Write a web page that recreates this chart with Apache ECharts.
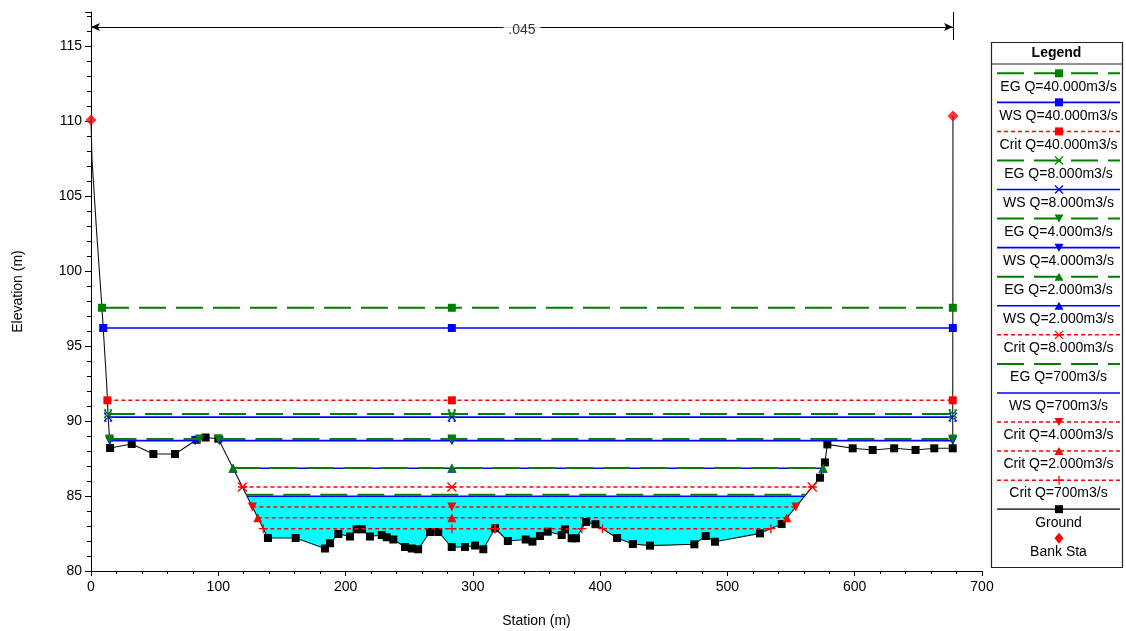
<!DOCTYPE html>
<html><head><meta charset="utf-8">
<script src="https://cdn.jsdelivr.net/npm/echarts@6/dist/echarts.min.js"></script>
<style>html,body{margin:0;padding:0;background:#fff}#c{width:1126px;height:631px}</style>
</head><body><div id="c"></div>
<script>
// ---------------- DATA ----------------
const groundStation = [0, 0.8, 4.5, 8.5, 12.3, 13.5, 15,
  32, 49, 66, 83, 90, 100,
  139, 160.8, 183.8, 187.8, 194.3, 203.5, 208.7, 212.7, 219.2, 228.4, 232.3, 237.5, 246.7, 252, 257,
  266.3, 272.8, 283.4, 293.8, 301.7, 308.2, 317.4, 327.5, 341.5, 346.8, 352.7, 358.8, 369.8, 372.4,
  377.6, 381, 389, 396.3, 413.3, 425.7, 439.2, 474, 482.9, 490.2, 525.6, 542.6, 572.7, 576.6, 578.5,
  598.4, 614.1, 631, 647.8, 662.5, 677, 677.2];
const groundElev = [110.07, 107.4, 102.5, 97.7, 92.5, 90.2, 88.2,
  88.47, 87.8, 87.8, 88.75, 88.9, 88.82,
  82.2, 82.2, 81.5, 81.85, 82.47, 82.3, 82.78, 82.78, 82.3, 82.4, 82.25, 82.1, 81.6, 81.5, 81.45,
  82.6, 82.6, 81.6, 81.6, 81.7, 81.45, 82.85, 82.0, 82.1, 81.96, 82.33, 82.62, 82.4, 82.78,
  82.18, 82.18, 83.27, 83.12, 82.2, 81.8, 81.69, 81.78, 82.33, 81.95, 82.51, 83.13, 86.22, 87.24, 88.44,
  88.18, 88.07, 88.18, 88.07, 88.18, 88.18, 110.33];
const groundUnmarked = [0, 1, 2, 3, 4, 5, 63];

const bankStation = [0, 677.2];
const bankElev = [110.07, 110.33];

const profileNames = ['EG Q=40.000m3/s', 'WS Q=40.000m3/s', 'Crit Q=40.000m3/s', 'EG Q=8.000m3/s',
  'WS Q=8.000m3/s', 'EG Q=4.000m3/s', 'WS Q=4.000m3/s', 'EG Q=2.000m3/s', 'WS Q=2.000m3/s',
  'Crit Q=8.000m3/s', 'EG Q=700m3/s', 'WS Q=700m3/s', 'Crit Q=4.000m3/s', 'Crit Q=2.000m3/s', 'Crit Q=700m3/s'];
const profileElev = [97.55, 96.2, 91.38, 90.47, 90.26, 88.8, 88.69, 86.86, 86.85, 85.6, 85.08, 84.98, 84.27, 83.55, 82.82];
const profileKind = ['EG', 'WS', 'Crit', 'EG', 'WS', 'EG', 'WS', 'EG', 'WS', 'Crit', 'EG', 'WS', 'Crit', 'Crit', 'Crit'];
const profileMarker = ['square', 'square', 'square', 'xmark', 'xmark', 'tdown', 'tdown', 'tup', 'tup', 'star', 'none', 'none', 'tdown', 'tup', 'plus'];
const midStation = 283.5;
const fillProfile = 'WS Q=700m3/s';

const nValueText = '.045';
const nValueStations = [0, 677.2];
const nValueElev = 116.27;
const nValueTickTop = 117.27, nValueTickBottom = 115.4;

// ---------------- STYLE ----------------
const FONT = '"Liberation Sans", Arial, sans-serif';
const colors = {EG: '#008000', WS: '#0000ff', Crit: '#ff0000', Ground: '#000000', Bank: '#ff0000'};
const lineDash = {EG: [27, 10], WS: 'solid', Crit: [4, 3]};
const lineWidth = {EG: 2, WS: 1.6, Crit: 1.5};
const zOf = {WS: 3, EG: 4, Crit: 4};
const symbolDefs = {
  square: {symbol: 'rect', size: 8},
  tup: {symbol: 'triangle', size: 9},
  tdown: {symbol: 'triangle', size: 9, rotate: 180},
  xmark: {symbol: 'path://M0,0L10,10M10,0L0,10M0,0L3,0M7,0L10,0M0,10L3,10M7,10L10,10', size: 8, stroke: true},
  star: {symbol: 'path://M0,0L10,10M10,0L0,10M0,5L10,5', size: 9, stroke: true},
  plus: {symbol: 'path://M5,0L5,10M0,5L10,5', size: 9, stroke: true},
  none: {symbol: 'none', size: 0}
};

// ---------------- GEOMETRY HELPERS ----------------
function wetSegments(elev) {
  const segs = []; let start = null;
  for (let i = 0; i < groundStation.length - 1; i++) {
    const x1 = groundStation[i], y1 = groundElev[i], x2 = groundStation[i + 1], y2 = groundElev[i + 1];
    const b1 = y1 < elev, b2 = y2 < elev;
    if (!b1 && b2) start = x1 + (x2 - x1) * (y1 - elev) / (y1 - y2);
    if (b1 && !b2) { segs.push([start, x1 + (x2 - x1) * (y1 - elev) / (y1 - y2)]); start = null; }
  }
  return segs;
}
function wetPolygon(elev) {
  const seg = wetSegments(elev)[0];
  const pts = [[seg[0], elev]];
  groundStation.forEach((s, i) => { if (s > seg[0] && s < seg[1]) pts.push([s, groundElev[i]]); });
  pts.push([seg[1], elev]);
  return pts;
}

// ---------------- SERIES ----------------
const series = [];
const poly = wetPolygon(profileElev[profileNames.indexOf(fillProfile)]);
series.push({
  type: 'custom', name: 'fill', z: 1, silent: true, data: [poly[0]],
  renderItem: (params, api) => ({type: 'polygon', shape: {points: poly.map(q => api.coord(q))}, style: {fill: '#00ffff'}})
});
series.push({
  type: 'line', name: 'Ground', z: 2,
  data: groundStation.map((s, i) => [s, groundElev[i]]),
  symbol: (v, p) => groundUnmarked.includes(p.dataIndex) ? 'none' : 'rect',
  symbolSize: 8, showAllSymbol: true,
  lineStyle: {color: '#111', width: 1.1}, itemStyle: {color: '#000'}
});
profileNames.forEach((n, i) => {
  const e = profileElev[i], k = profileKind[i], sd = symbolDefs[profileMarker[i]];
  wetSegments(e).forEach(seg => {
    const pts = [[seg[0], e]];
    if (midStation > seg[0] && midStation < seg[1]) pts.push([midStation, e]);
    pts.push([seg[1], e]);
    series.push({
      type: 'line', name: n, z: zOf[k], data: pts,
      symbol: sd.symbol, symbolSize: sd.size, symbolRotate: sd.rotate || 0, showAllSymbol: true,
      lineStyle: {color: colors[k], width: lineWidth[k], type: lineDash[k]},
      itemStyle: {color: colors[k], borderColor: colors[k], borderWidth: sd.stroke ? 1.3 : 0}
    });
  });
});
series.push({
  type: 'scatter', name: 'Bank Sta', z: 6,
  data: bankStation.map((s, i) => [s, bankElev[i]]),
  symbol: 'diamond', symbolSize: 11, itemStyle: {color: colors.Bank},
  markLine: {
    silent: true, animation: false, symbol: ['arrow', 'arrow'], symbolSize: [6, 9],
    lineStyle: {color: '#000', width: 1, type: 'solid'}, label: {show: false},
    data: [
      [{coord: [nValueStations[0], nValueElev]}, {coord: [nValueStations[1], nValueElev]}],
      [{coord: [nValueStations[1], nValueTickBottom], symbol: 'none'}, {coord: [nValueStations[1], nValueTickTop], symbol: 'none'}]
    ]
  }
});
series.push({
  type: 'scatter', name: 'nlabel', z: 7, silent: true, symbolSize: 0,
  data: [[(nValueStations[0] + nValueStations[1]) / 2, nValueElev]],
  label: {show: true, position: 'inside', offset: [0, 3], formatter: nValueText, color: '#000', fontSize: 14, fontFamily: FONT,
    backgroundColor: '#fff', padding: [1, 5]}
});

// ---------------- LEGEND (graphic) ----------------
const LG = {x: 991, y: 42, w: 131, h: 525, sepY: 64, first: 73.3, step: 29.06, textDy: 13.5, lx1: 997, lx2: 1120, mx: 1059, tx: 1058.5};
const legendEntries = profileNames.map((n, i) => ({name: n, kind: profileKind[i], marker: profileMarker[i]}))
  .concat([{name: 'Ground', kind: 'Ground', marker: 'square'}, {name: 'Bank Sta', kind: 'Bank', marker: 'diamond'}]);
function markerGraphic(m, cx, cy, c) {
  const L = (x1, y1, x2, y2) => ({type: 'line', shape: {x1, y1, x2, y2}, style: {stroke: c, lineWidth: 1.3}});
  switch (m) {
    case 'square': return [{type: 'rect', shape: {x: cx - 4, y: cy - 4, width: 8, height: 8}, style: {fill: c}}];
    case 'tup': return [{type: 'polygon', shape: {points: [[cx - 4.5, cy + 4], [cx + 4.5, cy + 4], [cx, cy - 4]]}, style: {fill: c}}];
    case 'tdown': return [{type: 'polygon', shape: {points: [[cx - 4.5, cy - 4], [cx + 4.5, cy - 4], [cx, cy + 4]]}, style: {fill: c}}];
    case 'xmark': return [L(cx - 4, cy - 4, cx + 4, cy + 4), L(cx + 4, cy - 4, cx - 4, cy + 4)];
    case 'star': return [L(cx - 4, cy - 4, cx + 4, cy + 4), L(cx + 4, cy - 4, cx - 4, cy + 4), L(cx - 4, cy, cx + 4, cy)];
    case 'plus': return [L(cx, cy - 4.5, cx, cy + 4.5), L(cx - 4.5, cy, cx + 4.5, cy)];
    case 'diamond': return [{type: 'polygon', shape: {points: [[cx, cy - 5.5], [cx + 4.5, cy], [cx, cy + 5.5], [cx - 4.5, cy]]}, style: {fill: c}}];
    default: return [];
  }
}
const graphics = [];
graphics.push({type: 'rect', shape: {x: LG.x + 0.5, y: LG.y + 0.5, width: LG.w, height: LG.h}, style: {fill: '#fff', stroke: '#222', lineWidth: 1.2}, z: 10});
graphics.push({type: 'text', x: LG.x + LG.w / 2, y: LG.y + 11, z: 11, style: {text: 'Legend', font: 'bold 14px ' + FONT, fill: '#000', align: 'center', verticalAlign: 'middle'}});
graphics.push({type: 'line', shape: {x1: LG.x, y1: LG.sepY, x2: LG.x + LG.w, y2: LG.sepY}, style: {stroke: '#222', lineWidth: 1.2}, z: 11});
legendEntries.forEach((en, i) => {
  const ly = LG.first + i * LG.step;
  const c = colors[en.kind];
  if (en.kind !== 'Bank') {
    graphics.push({type: 'line', z: 11, shape: {x1: LG.lx1, y1: ly, x2: LG.lx2, y2: ly},
      style: {stroke: c, lineWidth: en.kind === 'Ground' ? 1.2 : lineWidth[en.kind],
        lineDash: Array.isArray(lineDash[en.kind]) ? lineDash[en.kind] : null}});
  }
  markerGraphic(en.marker, LG.mx, ly, c).forEach(g => { g.z = 12; graphics.push(g); });
  graphics.push({type: 'text', x: LG.tx, y: ly + LG.textDy, z: 12,
    style: {text: en.name, font: '14px ' + FONT, fill: '#000', align: 'center', verticalAlign: 'middle'}});
});

// ---------------- CHART ----------------
const chart = echarts.init(document.getElementById('c'), null, {renderer: 'canvas'});
chart.setOption({
  animation: false,
  backgroundColor: '#fff',
  grid: {left: 91, right: 144, top: 12, bottom: 60, containLabel: false, outerBoundsMode: 'none'},
  xAxis: {
    type: 'value', min: 0, max: 700, interval: 100,
    name: 'Station (m)', nameLocation: 'middle', nameGap: 43,
    nameTextStyle: {color: '#000', fontSize: 14, fontFamily: FONT},
    axisLine: {show: true, onZero: false, lineStyle: {color: '#000', width: 1}},
    axisTick: {show: true, length: 5, lineStyle: {color: '#000'}},
    minorTick: {show: true, splitNumber: 5, length: 3, lineStyle: {color: '#000'}},
    splitLine: {show: false},
    axisLabel: {color: '#000', fontSize: 14, fontFamily: FONT, margin: 9}
  },
  yAxis: {
    type: 'value', min: 80, max: 117.27, interval: 5,
    name: 'Elevation (m)', nameLocation: 'middle', nameGap: 66, nameRotate: 90,
    nameTextStyle: {color: '#000', fontSize: 14, fontFamily: FONT},
    axisLine: {show: true, onZero: false, lineStyle: {color: '#000', width: 1}},
    axisTick: {show: true, length: 6, lineStyle: {color: '#000'}},
    minorTick: {show: true, splitNumber: 5, length: 4, lineStyle: {color: '#000'}},
    splitLine: {show: false},
    axisLabel: {color: '#000', fontSize: 14, fontFamily: FONT, margin: 9, showMaxLabel: false}
  },
  series: series,
  graphic: graphics
});
</script></body></html>
